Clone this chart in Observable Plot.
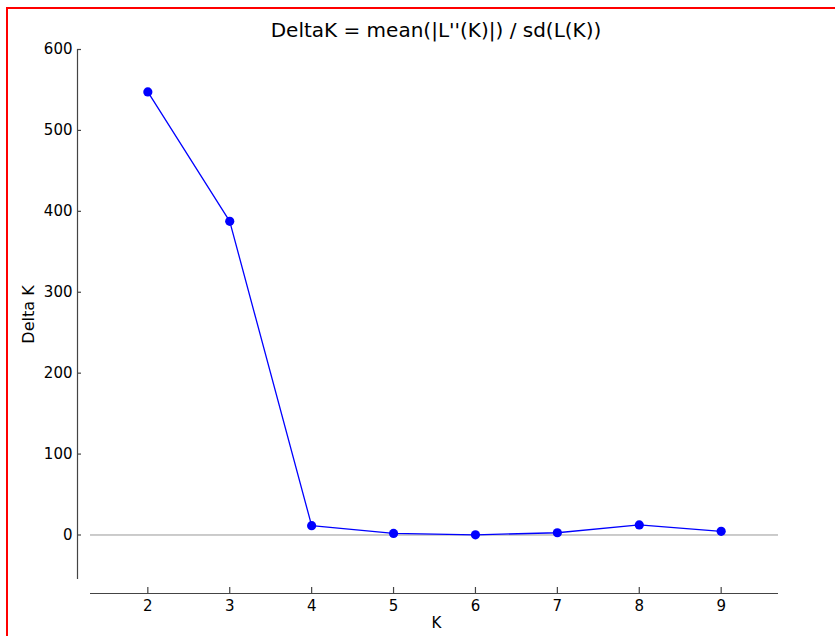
<!DOCTYPE html>
<html>
<head>
<meta charset="utf-8">
<script src="https://cdn.jsdelivr.net/npm/d3@7"></script>
<script src="https://cdn.jsdelivr.net/npm/@observablehq/plot@0.6"></script>
<style>
  html, body { margin: 0; padding: 0; background: #fff; overflow: hidden; width: 835px; height: 636px; }
  #chart { position: absolute; left: 0; top: 0; }
  #border { position: absolute; left: 6px; top: 7px; width: 900px; height: 700px; border: 2px solid #ff0000; box-sizing: border-box; pointer-events: none; }
</style>
</head>
<body>
<div id="chart"></div>
<div id="border"></div>
<script>
const K = [2, 3, 4, 5, 6, 7, 8, 9];
const deltaK = [547.6, 387.6, 11.5, 2.0, 0.2, 2.8, 12.4, 4.5];
const xTicks = [2, 3, 4, 5, 6, 7, 8, 9];
const yTicks = [0, 100, 200, 300, 400, 500, 600];
const titleText = "DeltaK = mean(|L''(K)|) / sd(L(K))";
const xLabel = "K";
const yLabel = "Delta K";

const data = K.map((k, i) => ({k, v: deltaK[i]}));

const W = 835, H = 636;
const mL = 90, mR = 57, mT = 49, mB = 57;
const frameW = W - mL - mR, frameH = H - mT - mB;
const spineCol = "#444";

const chart = Plot.plot({
  width: W,
  height: H,
  marginLeft: mL,
  marginRight: mR,
  marginTop: mT,
  marginBottom: mB,
  style: {fontFamily: "DejaVu Sans", background: "#fff", color: "#000", overflow: "visible"},
  x: {domain: [1.3, 9.7], axis: null},
  y: {domain: [-55, 600], axis: null},
  marks: [
    // zero reference line
    Plot.ruleY([0], {stroke: "#999", strokeWidth: 1}),
    // y spine (offset left)
    Plot.ruleX([1.3], {dx: -13, stroke: spineCol, strokeWidth: 1.2}),
    // y ticks pointing inward
    Plot.ruleY(yTicks, {y: d => d, dx: -13, insetRight: frameW - 4, stroke: spineCol, strokeWidth: 1.2}),
    Plot.axisY(yTicks, {anchor: "left", tickSize: 0, tickPadding: 5, dx: -13, label: null, fontSize: 15, fill: "#000"}),
    // x spine (offset down)
    Plot.ruleY([-55], {dy: 14, stroke: spineCol, strokeWidth: 1.2}),
    // x ticks pointing inward
    Plot.ruleX(xTicks, {x: d => d, dy: 14, insetTop: frameH - 6, stroke: spineCol, strokeWidth: 1.2}),
    Plot.axisX(xTicks, {anchor: "bottom", tickSize: 0, tickPadding: 7, dy: 14, label: null, fontSize: 15, fill: "#000"}),
    // data
    Plot.line(data, {x: "k", y: "v", stroke: "#0000ff", strokeWidth: 1.3}),
    Plot.dot(data, {x: "k", y: "v", r: 4.6, fill: "#0000ff", stroke: "none"}),
    // texts
    Plot.text([titleText], {frameAnchor: "top", text: d => d, textAnchor: "middle", dx: 1.5, dy: -18.5, lineAnchor: "middle", fontSize: 20, fill: "#000"}),
    Plot.text([yLabel], {frameAnchor: "left", text: d => d, textAnchor: "middle", rotate: -90, dx: -62, lineAnchor: "middle", fontSize: 16, fill: "#000"}),
    Plot.text([xLabel], {frameAnchor: "bottom", text: d => d, textAnchor: "middle", dx: 2, dy: 44, lineAnchor: "middle", fontSize: 15, fill: "#000"})
  ]
});
document.getElementById("chart").appendChild(chart);
</script>
</body>
</html>
